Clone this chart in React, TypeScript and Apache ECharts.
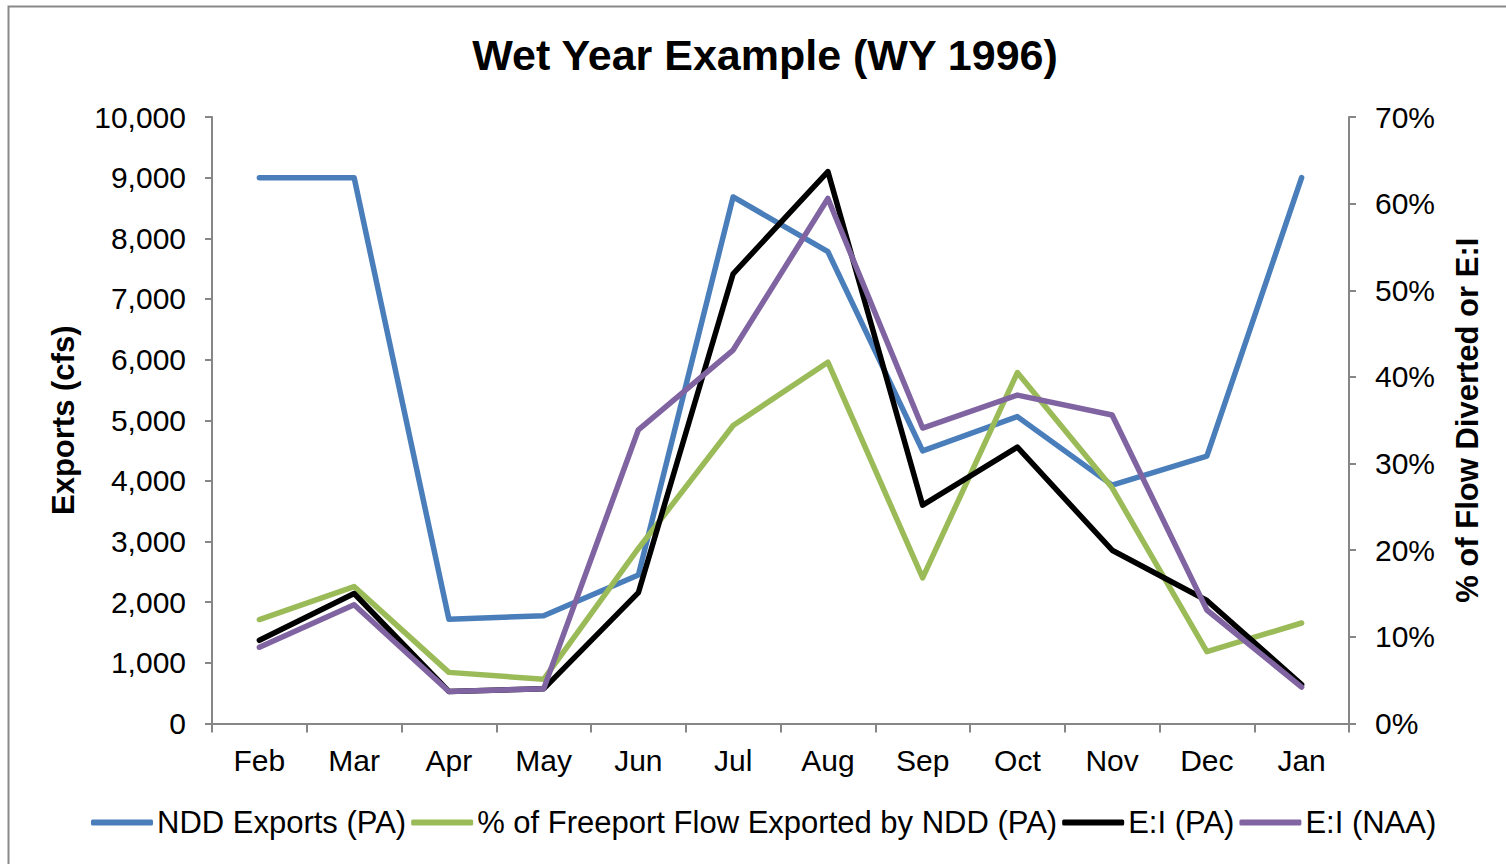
import React, { useEffect, useRef } from "react";
import * as echarts from "echarts";

const months = ["Feb", "Mar", "Apr", "May", "Jun", "Jul", "Aug", "Sep", "Oct", "Nov", "Dec", "Jan"];
const nddExports = [9000, 9000, 1720, 1775, 2447, 8682, 7780, 4496, 5060, 3930, 4410, 9000];
const pctFreeport = [12.0, 15.8, 5.9, 5.1, 20.2, 34.4, 41.7, 16.8, 40.5, 27.2, 8.3, 11.6];
const eiPA = [9.6, 15.0, 3.7, 4.0, 15.1, 51.9, 63.7, 25.2, 31.9, 20.0, 14.2, 4.5];
const eiNAA = [8.8, 13.7, 3.7, 4.0, 33.9, 43.1, 60.6, 34.1, 37.9, 35.6, 13.1, 4.2];
const leftTicks = { min: 0, max: 10000, interval: 1000 };
const rightTicks = { min: 0, max: 70, interval: 10 };

const FONT = "Liberation Sans, Arial, sans-serif";
const AXIS_COLOR = "#868686";

export default function App() {
  const ref = useRef<HTMLDivElement>(null);
  useEffect(() => {
    if (!ref.current) return;
    const chart = echarts.init(ref.current, undefined, { renderer: "svg" });
    const axisCommon = {
      axisLine: { show: true, lineStyle: { color: AXIS_COLOR, width: 2 } },
      axisTick: { show: true, inside: false, length: 7, lineStyle: { color: AXIS_COLOR, width: 2 } },
      splitLine: { show: false },
    };
    const lineSeries = (name: string, data: number[], color: string, yIndex: number) => ({
      name,
      type: "line",
      data,
      yAxisIndex: yIndex,
      symbol: "none",
      lineStyle: { color, width: 5.5, cap: "round", join: "round" },
      itemStyle: { color },
    });
    chart.setOption({
      animation: false,
      backgroundColor: "#ffffff",
      textStyle: { fontFamily: FONT },
      title: {
        text: "Wet Year Example (WY 1996)",
        left: 760,
        textAlign: "center",
        top: 28,
        textStyle: { fontFamily: FONT, fontSize: 43, fontWeight: "bold", color: "#000" },
      },
      graphic: [
        {
          type: "rect",
          shape: { x: 8.5, y: 6.5, width: 1510, height: 900 },
          style: { fill: "none", stroke: "#898989", lineWidth: 2 },
          silent: true,
        },
      ],
      legend: {
        bottom: 21,
        left: 86,
        itemWidth: 62,
        itemHeight: 6,
        itemGap: 5,
        icon: "roundRect",
        textStyle: { fontFamily: FONT, fontSize: 31, color: "#000", padding: [0, 0, 0, -1] },
        data: ["NDD Exports (PA)", "% of Freeport Flow Exported by NDD (PA)", "E:I (PA)", "E:I (NAA)"],
      },
      grid: { left: 212, right: 157, top: 117, bottom: 140.5, containLabel: false },
      xAxis: {
        type: "category",
        data: months,
        boundaryGap: true,
        ...axisCommon,
        axisTick: { show: true, inside: false, length: 9, alignWithLabel: false, lineStyle: { color: AXIS_COLOR, width: 2 } },
        axisLabel: { fontFamily: FONT, fontSize: 30, color: "#000", margin: 22 },
      },
      yAxis: [
        {
          type: "value",
          position: "left",
          ...leftTicks,
          ...axisCommon,
          name: "Exports (cfs)",
          nameLocation: "middle",
          nameRotate: 90,
          nameGap: 133,
          nameTextStyle: { fontFamily: FONT, fontSize: 31, fontWeight: "bold", color: "#000" },
          axisLabel: {
            fontFamily: FONT,
            fontSize: 30,
            color: "#000",
            margin: 26,
            formatter: (v: number) => v.toLocaleString("en-US"),
          },
        },
        {
          type: "value",
          position: "right",
          ...rightTicks,
          ...axisCommon,
          name: "% of Flow Diverted or E:I",
          nameLocation: "middle",
          nameRotate: 90,
          nameGap: 103,
          nameTextStyle: { fontFamily: FONT, fontSize: 31, fontWeight: "bold", color: "#000" },
          axisLabel: {
            fontFamily: FONT,
            fontSize: 30,
            color: "#000",
            margin: 26,
            formatter: (v: number) => `${v}%`,
          },
        },
      ],
      series: [
        lineSeries("NDD Exports (PA)", nddExports, "#4A7EBB", 0),
        lineSeries("% of Freeport Flow Exported by NDD (PA)", pctFreeport, "#9BBB59", 1),
        lineSeries("E:I (PA)", eiPA, "#000000", 1),
        lineSeries("E:I (NAA)", eiNAA, "#8064A2", 1),
      ],
    });
    return () => chart.dispose();
  }, []);
  return (
    <div
      ref={ref}
      style={{ position: "absolute", left: 0, top: 0, width: 1506, height: 864 }}
    />
  );
}
